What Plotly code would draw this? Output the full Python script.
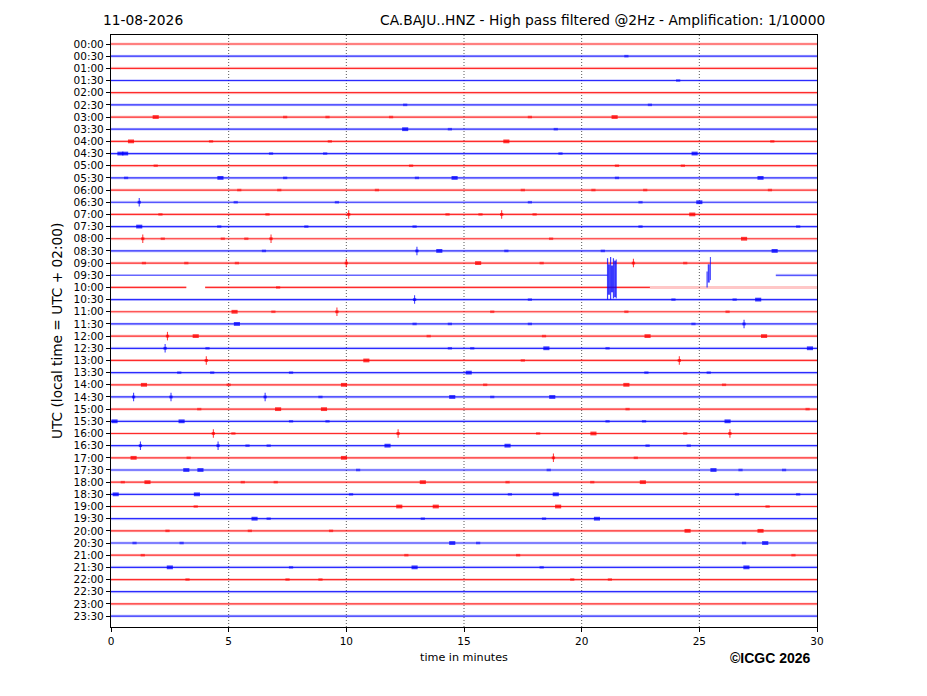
import plotly.graph_objects as go

# ---------------- data ----------------
row_labels = ["%02d:%02d" % (h, m) for h in range(24) for m in (0, 30)]
row_colors = ["red" if i % 2 == 0 else "blue" for i in range(len(row_labels))]
x_ticks = [0, 5, 10, 15, 20, 25, 30]
grid_minutes = [5, 10, 15, 20, 25]

# trace segments that differ from the full 0-30 min record: (row, start, end, style)
special_segments = [
    ("09:30", 0.0, 21.1, "thin"),
    ("09:30", 28.25, 30.0, "normal"),
    ("10:00", 0.0, 3.2, "normal"),
    ("10:00", 4.0, 22.9, "normal"),
    ("10:00", 22.9, 30.0, "faint"),
]

# small bursts read from the record: (row, minute, kind)  s=small, b=big, p=spike
bursts = [
    ("00:30", 21.9, "s"), ("01:30", 24.1, "s"), ("02:30", 12.5, "s"), ("02:30", 22.9, "s"),
    ("03:00", 1.9, "b"), ("03:00", 7.4, "s"), ("03:00", 9.2, "s"), ("03:00", 11.9, "s"),
    ("03:00", 17.8, "s"), ("03:00", 21.4, "b"),
    ("03:30", 12.5, "b"), ("03:30", 14.4, "s"), ("03:30", 18.9, "s"),
    ("04:00", 0.85, "b"), ("04:00", 4.25, "s"), ("04:00", 9.3, "s"), ("04:00", 16.8, "b"), ("04:00", 28.1, "s"),
    ("04:30", 0.4, "b"), ("04:30", 0.6, "b"), ("04:30", 6.8, "s"), ("04:30", 9.1, "s"), ("04:30", 19.1, "s"), ("04:30", 24.8, "b"),
    ("05:00", 1.9, "s"), ("05:00", 12.75, "s"), ("05:00", 21.5, "s"), ("05:00", 24.3, "s"),
    ("05:30", 0.64, "s"), ("05:30", 4.65, "b"), ("05:30", 7.4, "s"), ("05:30", 13.0, "s"), ("05:30", 14.6, "b"),
    ("05:30", 21.5, "s"), ("05:30", 27.6, "b"),
    ("06:00", 5.45, "s"), ("06:00", 7.15, "s"), ("06:00", 11.3, "s"), ("06:00", 17.5, "s"), ("06:00", 20.5, "s"),
    ("06:00", 22.7, "s"), ("06:00", 28.0, "s"),
    ("06:30", 1.2, "p"), ("06:30", 5.3, "s"), ("06:30", 9.6, "s"), ("06:30", 17.8, "s"), ("06:30", 22.5, "s"), ("06:30", 25.0, "b"),
    ("07:00", 2.1, "s"), ("07:00", 6.65, "s"), ("07:00", 10.1, "p"), ("07:00", 14.3, "s"), ("07:00", 15.7, "s"),
    ("07:00", 16.6, "p"), ("07:00", 18.0, "s"), ("07:00", 24.7, "b"),
    ("07:30", 1.2, "b"), ("07:30", 4.6, "s"), ("07:30", 8.3, "s"), ("07:30", 12.9, "s"), ("07:30", 22.5, "s"), ("07:30", 29.2, "s"),
    ("08:00", 1.35, "p"), ("08:00", 2.2, "s"), ("08:00", 4.75, "s"), ("08:00", 5.75, "s"), ("08:00", 6.8, "p"),
    ("08:00", 18.7, "s"), ("08:00", 26.9, "b"),
    ("08:30", 6.5, "s"), ("08:30", 13.0, "p"), ("08:30", 13.95, "b"), ("08:30", 16.8, "s"), ("08:30", 20.9, "s"), ("08:30", 28.2, "b"),
    ("09:00", 1.4, "s"), ("09:00", 3.2, "s"), ("09:00", 5.35, "s"), ("09:00", 10.0, "p"), ("09:00", 15.6, "b"),
    ("09:00", 18.3, "s"), ("09:00", 22.2, "p"), ("09:00", 24.4, "s"),
    ("10:00", 7.1, "s"),
    ("10:30", 12.9, "p"), ("10:30", 17.8, "s"), ("10:30", 23.9, "s"), ("10:30", 26.5, "s"), ("10:30", 27.5, "b"),
    ("11:00", 5.25, "b"), ("11:00", 6.9, "s"), ("11:00", 9.6, "p"), ("11:00", 16.2, "s"), ("11:00", 21.9, "s"), ("11:00", 26.2, "s"),
    ("11:30", 5.35, "b"), ("11:30", 12.9, "s"), ("11:30", 14.4, "s"), ("11:30", 17.8, "s"), ("11:30", 24.75, "s"), ("11:30", 26.9, "p"),
    ("12:00", 2.4, "p"), ("12:00", 3.6, "b"), ("12:00", 13.5, "s"), ("12:00", 18.4, "s"), ("12:00", 22.8, "b"), ("12:00", 27.75, "b"),
    ("12:30", 2.3, "p"), ("12:30", 4.1, "s"), ("12:30", 14.4, "s"), ("12:30", 15.35, "s"), ("12:30", 18.5, "b"),
    ("12:30", 21.1, "s"), ("12:30", 29.7, "b"),
    ("13:00", 4.05, "p"), ("13:00", 10.85, "b"), ("13:00", 17.5, "s"), ("13:00", 24.15, "p"),
    ("13:30", 2.9, "s"), ("13:30", 4.3, "s"), ("13:30", 7.65, "s"), ("13:30", 15.2, "b"), ("13:30", 22.75, "s"), ("13:30", 25.4, "s"),
    ("14:00", 1.4, "b"), ("14:00", 5.0, "s"), ("14:00", 9.9, "b"), ("14:00", 15.9, "s"), ("14:00", 21.9, "b"), ("14:00", 26.05, "s"),
    ("14:30", 0.96, "p"), ("14:30", 2.55, "p"), ("14:30", 6.55, "p"), ("14:30", 8.9, "s"), ("14:30", 14.5, "b"),
    ("14:30", 16.2, "s"), ("14:30", 18.75, "b"),
    ("15:00", 3.75, "s"), ("15:00", 7.1, "b"), ("15:00", 9.05, "b"), ("15:00", 21.95, "s"), ("15:00", 29.6, "s"),
    ("15:30", 0.15, "b"), ("15:30", 3.0, "b"), ("15:30", 7.65, "s"), ("15:30", 9.2, "s"), ("15:30", 21.1, "s"),
    ("15:30", 22.65, "s"), ("15:30", 26.2, "b"),
    ("16:00", 4.35, "p"), ("16:00", 5.2, "s"), ("16:00", 12.2, "p"), ("16:00", 18.15, "s"), ("16:00", 20.5, "b"),
    ("16:00", 24.4, "s"), ("16:00", 26.3, "p"),
    ("16:30", 1.25, "p"), ("16:30", 4.55, "p"), ("16:30", 5.8, "s"), ("16:30", 6.7, "s"), ("16:30", 11.75, "b"),
    ("16:30", 16.85, "b"), ("16:30", 22.8, "s"), ("16:30", 24.55, "s"),
    ("17:00", 0.96, "b"), ("17:00", 3.3, "s"), ("17:00", 9.9, "b"), ("17:00", 18.8, "p"), ("17:00", 22.3, "s"),
    ("17:30", 3.2, "b"), ("17:30", 3.8, "b"), ("17:30", 10.5, "s"), ("17:30", 18.6, "s"), ("17:30", 25.6, "b"),
    ("17:30", 26.75, "s"), ("17:30", 28.6, "s"),
    ("18:00", 0.5, "s"), ("18:00", 1.55, "b"), ("18:00", 5.6, "s"), ("18:00", 7.0, "s"), ("18:00", 13.25, "b"),
    ("18:00", 16.85, "s"), ("18:00", 20.45, "s"), ("18:00", 22.6, "b"),
    ("18:30", 0.2, "b"), ("18:30", 3.65, "b"), ("18:30", 10.2, "s"), ("18:30", 16.95, "s"), ("18:30", 18.9, "b"),
    ("18:30", 26.6, "s"), ("18:30", 29.2, "s"),
    ("19:00", 3.6, "s"), ("19:00", 12.25, "b"), ("19:00", 13.8, "b"), ("19:00", 19.0, "b"), ("19:00", 27.9, "s"),
    ("19:30", 6.1, "b"), ("19:30", 6.7, "s"), ("19:30", 13.25, "s"), ("19:30", 18.4, "s"), ("19:30", 20.65, "b"),
    ("20:00", 2.4, "s"), ("20:00", 5.9, "s"), ("20:00", 9.35, "s"), ("20:00", 24.5, "b"), ("20:00", 27.6, "b"),
    ("20:30", 1.0, "s"), ("20:30", 3.0, "s"), ("20:30", 14.5, "b"), ("20:30", 15.6, "s"), ("20:30", 26.9, "s"), ("20:30", 27.8, "b"),
    ("21:00", 1.35, "s"), ("21:00", 12.55, "s"), ("21:00", 17.3, "s"), ("21:00", 29.0, "s"),
    ("21:30", 2.5, "b"), ("21:30", 7.65, "s"), ("21:30", 12.9, "b"), ("21:30", 18.3, "s"), ("21:30", 27.0, "b"),
    ("22:00", 3.25, "s"), ("22:00", 7.5, "s"), ("22:00", 8.9, "s"), ("22:00", 19.6, "s"), ("22:00", 21.2, "s"),
]

# large event around 09:30: vertical strokes (row, minute, upper row offset, lower row offset, width)
event_strokes = [
    ("09:30", 21.10, -1.4, 2.0, 1.2), ("09:30", 21.16, -0.9, 1.6, 2.0), ("09:30", 21.23, -1.5, 2.0, 1.2),
    ("09:30", 21.29, -0.8, 1.4, 2.2), ("09:30", 21.35, -1.4, 1.9, 1.2), ("09:30", 21.42, -1.2, 1.8, 2.0),
    ("09:30", 21.47, -1.3, 1.9, 1.0),
    ("09:30", 25.33, -0.3, 1.0, 1.2), ("09:30", 25.40, -0.9, 0.6, 2.0), ("09:30", 25.47, -1.5, 0.4, 1.0),
]

title_left = "11-08-2026"
title_right = "CA.BAJU..HNZ - High pass filtered @2Hz - Amplification: 1/10000"
y_title = "UTC (local time = UTC + 02:00)"
x_title = "time in minutes"
credit = "©ICGC 2026"

# ---------------- figure ----------------
row_index = {lab: i for i, lab in enumerate(row_labels)}
rgb = {"red": "255,0,0", "blue": "0,0,255"}

special_rows = {s[0] for s in special_segments}
segs = []
for i, lab in enumerate(row_labels):
    if lab not in special_rows:
        segs.append((i, 0.0, 30.0, "normal"))
for lab, a, b, st in special_segments:
    segs.append((row_index[lab], a, b, st))

styles = {
    "normal": [(3.0, 0.16), (1.2, 0.8)],
    "thin": [(1.3, 0.6)],
    "faint": [(3.0, 0.22)],
}

fig = go.Figure()
for col in ("red", "blue"):
    for st, layers in styles.items():
        for w, a in layers:
            xs, ys = [], []
            for i, x0, x1, s in segs:
                if s == st and row_colors[i] == col:
                    xs += [x0, x1, None]
                    ys += [i, i, None]
            if xs:
                fig.add_trace(go.Scatter(x=xs, y=ys, mode="lines", hoverinfo="skip",
                                         line=dict(color="rgba(%s,%s)" % (rgb[col], a), width=w)))

# bursts
burst_style = {"s": (0.09, 2.6, 0.55), "b": (0.13, 3.8, 0.75), "p": (0.07, 2.8, 0.7)}
for col in ("red", "blue"):
    for kind, (half, w, a) in burst_style.items():
        xs, ys = [], []
        for lab, t, k in bursts:
            i = row_index[lab]
            if k == kind and row_colors[i] == col:
                xs += [t - half, t + half, None]
                ys += [i, i, None]
        fig.add_trace(go.Scatter(x=xs, y=ys, mode="lines", hoverinfo="skip",
                                 line=dict(color="rgba(%s,%s)" % (rgb[col], a), width=w)))
    xs, ys = [], []
    for lab, t, k in bursts:
        i = row_index[lab]
        if k == "p" and row_colors[i] == col:
            xs += [t, t, None]
            ys += [i - 0.35, i + 0.35, None]
    fig.add_trace(go.Scatter(x=xs, y=ys, mode="lines", hoverinfo="skip",
                             line=dict(color="rgba(%s,0.75)" % rgb[col], width=1.1)))

# large event strokes
for lab, t, up, dn, w in event_strokes:
    i = row_index[lab]
    fig.add_trace(go.Scatter(x=[t, t], y=[i + up, i + dn], mode="lines", hoverinfo="skip",
                             line=dict(color="rgba(0,0,255,0.75)", width=w)))

# dotted vertical grid
for g in grid_minutes:
    fig.add_shape(type="line", x0=g, x1=g, y0=0, y1=1, xref="x", yref="paper",
                  line=dict(color="rgba(60,60,60,0.85)", width=1, dash="1px,2px"), layer="below")

# the page body adds an 8px offset, so the figure is sized/placed to compensate
W, H, OFF = 927 - 8, 696 - 8, 8
L, T, PW, PH = 111 - OFF, 35 - OFF, 706, 592

font = "DejaVu Sans"
fig.update_layout(
    width=W, height=H,
    margin=dict(l=L, r=W - L - PW, t=T, b=H - T - PH, autoexpand=False),
    paper_bgcolor="white", plot_bgcolor="white",
    showlegend=False,
    font=dict(family=font, size=10.5, color="black"),
    xaxis=dict(range=[0, 30], tickvals=x_ticks, ticktext=[str(v) for v in x_ticks],
               showgrid=False, zeroline=False, showline=True, mirror=True,
               linecolor="black", linewidth=1.2, ticks="outside", ticklen=4,
               tickcolor="black", tickfont=dict(family=font, size=10.5)),
    yaxis=dict(range=[47.9, -0.74], tickvals=list(range(len(row_labels))), ticktext=row_labels,
               showgrid=False, zeroline=False, showline=True, mirror=True,
               linecolor="black", linewidth=1.2, ticks="outside", ticklen=4,
               tickcolor="black", tickfont=dict(family=font, size=10.5)),
    annotations=[
        dict(text=title_left, x=(101 - 111) / 706, y=(627 - 20) / 592, xref="paper", yref="paper",
             xanchor="left", yanchor="middle", showarrow=False, font=dict(family=font, size=13.8)),
        dict(text=title_right, x=(827 - 111) / 706, y=(627 - 20) / 592, xref="paper", yref="paper",
             xanchor="right", yanchor="middle", showarrow=False, font=dict(family=font, size=13.8)),
        dict(text=y_title, x=(57 - 111) / 706, y=0.5, xref="paper", yref="paper", textangle=-90,
             xanchor="center", yanchor="middle", showarrow=False, font=dict(family=font, size=13.7)),
        dict(text=x_title, x=(464 - 111) / 706, y=(627 - 657) / 592, xref="paper", yref="paper",
             xanchor="center", yanchor="middle", showarrow=False, font=dict(family=font, size=11.2)),
        dict(text="<b>" + credit + "</b>", x=(770 - 111) / 706, y=(627 - 658) / 592, xref="paper", yref="paper",
             xanchor="center", yanchor="middle", showarrow=False,
             font=dict(family="Liberation Sans", size=14)),
    ],
)

fig.write_html("out.html")
